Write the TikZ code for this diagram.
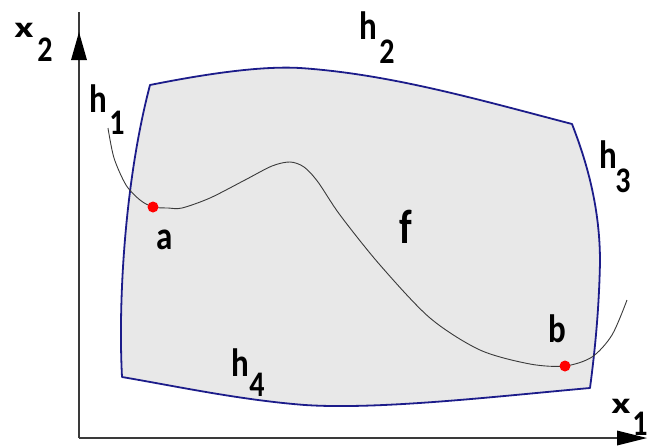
\documentclass[tikz,border=0pt]{standalone}
\usepackage{fontspec}
\setmainfont{Carlito}
\usetikzlibrary{arrows.meta}
\definecolor{regfill}{HTML}{E8E8E8}
\definecolor{regline}{HTML}{1C1C8A}
\definecolor{axiscol}{HTML}{3A3A3A}
\newcommand{\stretchtxt}[1]{\scalebox{1}[1.2]{#1}}
\newcommand{\widetxt}[1]{\scalebox{1.35}[0.95]{#1}}
\tikzset{
  lbl/.style={inner sep=0pt, font=\fontsize{33}{33}\selectfont\bfseries},
  sublbl/.style={inner sep=0pt, font=\fontsize{30}{30}\selectfont\bfseries},
  bigx/.style={inner sep=0pt, font=\fontsize{31}{31}\selectfont\bfseries},
  bigf/.style={inner sep=0pt, font=\fontsize{40}{40}\selectfont\bfseries},
  pt/.style={circle, fill=red, inner sep=0pt, minimum size=11pt},
  axisline/.style={draw=axiscol, line width=1.8pt},
  axishead/.style={fill=black, draw=none},
}
\begin{document}
\begin{tikzpicture}[x=1pt,y=-1pt]
\path[use as bounding box] (0,0) rectangle (651,445);
% axes
\coordinate (O) at (79,438);
\coordinate (Ytip) at (79,32);
\coordinate (Xtip) at (647,438);
% region
\draw[fill=regfill, draw=regline, line width=1.8pt, line join=round]
  (150,85) .. controls (215,72) and (265,66) .. (300,68)
  .. controls (390,74) and (480,100) .. (572,124)
  .. controls (588,165) and (600,210) .. (600,262)
  .. controls (599,310) and (595,350) .. (590,388)
  .. controls (500,396) and (380,410) .. (305,405)
  .. controls (240,400) and (175,386) .. (122,377)
  .. controls (118,300) and (125,180) .. (150,85) -- cycle;
\draw[axisline] (O) -- ([yshift=20pt]Ytip);
\draw[axisline] (O) -- ([xshift=-20pt]Xtip);
\fill[axishead] (Ytip) -- ++(-8,28) -- ++(16,0) -- cycle;
\fill[axishead] (Xtip) -- ++(-30,-7.5) -- ++(0,15) -- cycle;
% curve
\draw[axiscol, line width=0.9pt] plot[smooth, tension=0.5] coordinates {
  (108,128) (114,158) (126,185) (140,200) (153,207) (168,208) (182,208)
  (210,198) (245,180) (272,166) (290,162) (304,167) (318,182) (340,215)
  (380,265) (430,318) (480,350) (530,364) (565,366) (592,357) (612,335) (627,300)};
\node[pt] (a) at (153,207) {};
\node[pt] (b) at (565,366) {};
% labels
\node[bigx] (x2x) at (24,30) {\widetxt{x}};
\node[sublbl] (x2s) at (45,50) {\stretchtxt{2}};
\node[bigx] (x1x) at (621,406) {\widetxt{x}};
\node[sublbl, anchor=south] (x1s) at (640,436) {\stretchtxt{1}};
\node[lbl] (h1) at (98,99) {\stretchtxt{h}};
\node[sublbl] (h1s) at (117,123) {\stretchtxt{1}};
\node[lbl] (h2) at (368,26) {\stretchtxt{h}};
\node[sublbl] (h2s) at (387,52) {\stretchtxt{2}};
\node[lbl] (h3) at (608,155) {\stretchtxt{h}};
\node[sublbl] (h3s) at (623,181) {\stretchtxt{3}};
\node[lbl] (h4) at (240,363) {\stretchtxt{h}};
\node[sublbl] (h4s) at (257,385) {\stretchtxt{4}};
\node[lbl] (la) at (165,240) {\stretchtxt{a}};
\node[lbl] (lb) at (557,329) {\stretchtxt{b}};
\node[bigf] (f) at (406,227) {\stretchtxt{f}};
\end{tikzpicture}
\end{document}
